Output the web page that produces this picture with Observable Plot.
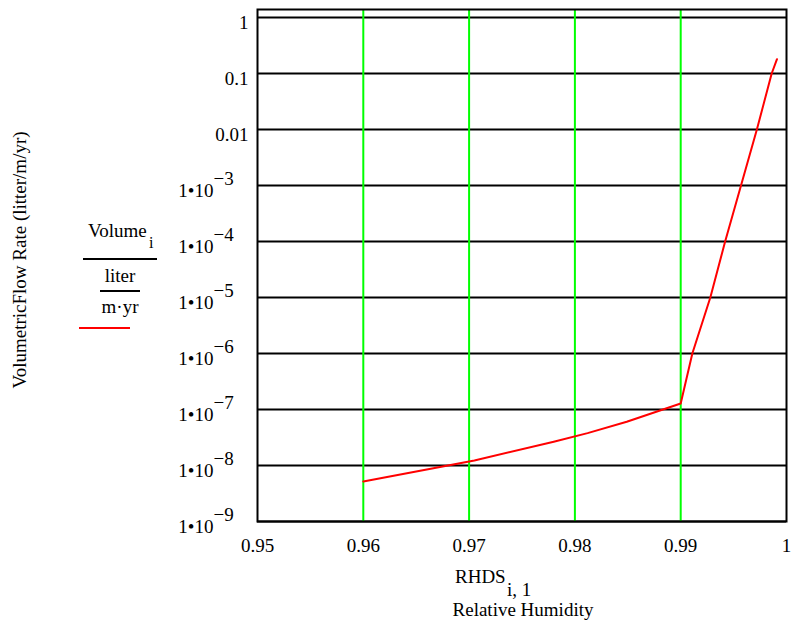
<!DOCTYPE html>
<html>
<head>
<meta charset="utf-8">
<script src="https://cdn.jsdelivr.net/npm/d3@7"></script>
<script src="https://cdn.jsdelivr.net/npm/@observablehq/plot@0.6"></script>
<style>
  html, body { margin: 0; padding: 0; background: #fff; }
  #chart svg { display: block; }
  #chart svg, #chart svg text { font-family: "Liberation Serif", "DejaVu Serif", "Noto Serif", Tinos, "Times New Roman", serif !important; }
</style>
</head>
<body>
<div id="chart"></div>
<script>
// Relative humidity (x) and volumetric flow rate (y, liter/(m·yr))
const rh   = [0.960, 0.9705, 0.978, 0.9812, 0.9849, 0.990, 0.9911, 0.9928, 0.9942, 0.9957, 0.9972, 0.9986, 0.9991];
const flow = [5.18e-9, 1.23e-8, 2.65e-8, 3.79e-8, 6.03e-8, 1.28e-7, 1.0e-6, 1.0e-5, 1.0e-4, 1.0e-3, 1.0e-2, 0.1, 0.18];

const xTicks = [0.95, 0.96, 0.97, 0.98, 0.99, 1];
const xTickLabels = ["0.95", "0.96", "0.97", "0.98", "0.99", "1"];
const xGreen = [0.96, 0.97, 0.98, 0.99];
const yTicks = [1, 0.1, 0.01, 1e-3, 1e-4, 1e-5, 1e-6, 1e-7, 1e-8, 1e-9];
const yPlainLabels = ["1", "0.1", "0.01"];
const yExponents = [-3, -4, -5, -6, -7, -8, -9];

const data = rh.map((x, i) => ({x, y: flow[i]}));
const plainTicks = yPlainLabels.map((t, i) => ({v: yTicks[i], t}));
const expTicks = yExponents.map(e => ({v: Math.pow(10, e), e: "\u2212" + Math.abs(e)}));
const xLab = xTicks.map((v, i) => ({v, t: xTickLabels[i]}));

const FONT = "\"Liberation Serif\", \"DejaVu Serif\", serif";
const FS = 19;

const chart = Plot.plot({
  width: 801,
  height: 628,
  marginLeft: 257,
  marginRight: 15,
  marginTop: 9,
  marginBottom: 107,
  style: {fontSize: FS + "px", background: "#fff", color: "#000"},
  x: {domain: [0.95, 1], axis: null},
  y: {type: "log", domain: [1e-9, Math.pow(10, 0.143)], axis: null},
  marks: [
    Plot.ruleY(yTicks, {stroke: "#000", strokeWidth: 2}),
    Plot.ruleX(xGreen, {stroke: "#00ff00", strokeWidth: 2}),
    Plot.frame({stroke: "#000", strokeWidth: 2}),
    Plot.line(data, {x: "x", y: "y", stroke: "#ff0000", strokeWidth: 2}),
    // y tick labels
    Plot.text(plainTicks, {y: "v", text: "t", frameAnchor: "left", textAnchor: "end", dx: -9, dy: 5, fontSize: FS, fill: "#000"}),
    Plot.text(expTicks, {y: "v", text: () => "1\u202210", frameAnchor: "left", textAnchor: "end", dx: -44, dy: 5, fontSize: FS, fill: "#000"}),
    Plot.text(expTicks, {y: "v", text: "e", frameAnchor: "left", textAnchor: "start", dx: -44, dy: -7, fontSize: FS, fill: "#000"}),
    // x tick labels
    Plot.text(xLab, {x: "v", text: "t", frameAnchor: "bottom", lineAnchor: "bottom", dy: 30, fontSize: FS, fill: "#000"})
  ]
});

document.getElementById("chart").appendChild(chart);

// Annotations (axis titles and legend) in the margins
const svg = d3.select(chart);
const g = svg.append("g").attr("font-family", FONT).attr("fill", "#000").attr("text-anchor", "start");

g.append("text")
  .attr("transform", "translate(26,260) rotate(-90)")
  .attr("text-anchor", "middle")
  .attr("font-size", FS)
  .text("VolumetricFlow Rate (litter/m/yr)");

g.append("text").attr("x", 88).attr("y", 237).attr("text-anchor", "start").attr("font-size", FS).text("Volume");
g.append("text").attr("x", 149).attr("y", 248).attr("text-anchor", "start").attr("font-size", 16).text("i");
g.append("line").attr("x1", 83).attr("x2", 157).attr("y1", 259).attr("y2", 259).attr("stroke", "#000").attr("stroke-width", 2);
g.append("text").attr("x", 120).attr("y", 282).attr("text-anchor", "middle").attr("font-size", FS).text("liter");
g.append("line").attr("x1", 100).attr("x2", 140).attr("y1", 291).attr("y2", 291).attr("stroke", "#000").attr("stroke-width", 2);
g.append("text").attr("x", 120).attr("y", 313).attr("text-anchor", "middle").attr("font-size", FS).text("m\u00b7yr");
g.append("line").attr("x1", 79).attr("x2", 130).attr("y1", 328).attr("y2", 328).attr("stroke", "#ff0000").attr("stroke-width", 2);

g.append("text").attr("x", 455).attr("y", 583).attr("text-anchor", "start").attr("font-size", FS).text("RHDS");
g.append("text").attr("x", 507).attr("y", 596).attr("text-anchor", "start").attr("font-size", FS).text("i, 1");
g.append("text").attr("x", 523).attr("y", 616).attr("text-anchor", "middle").attr("font-size", FS).text("Relative Humidity");
</script>
</body>
</html>
